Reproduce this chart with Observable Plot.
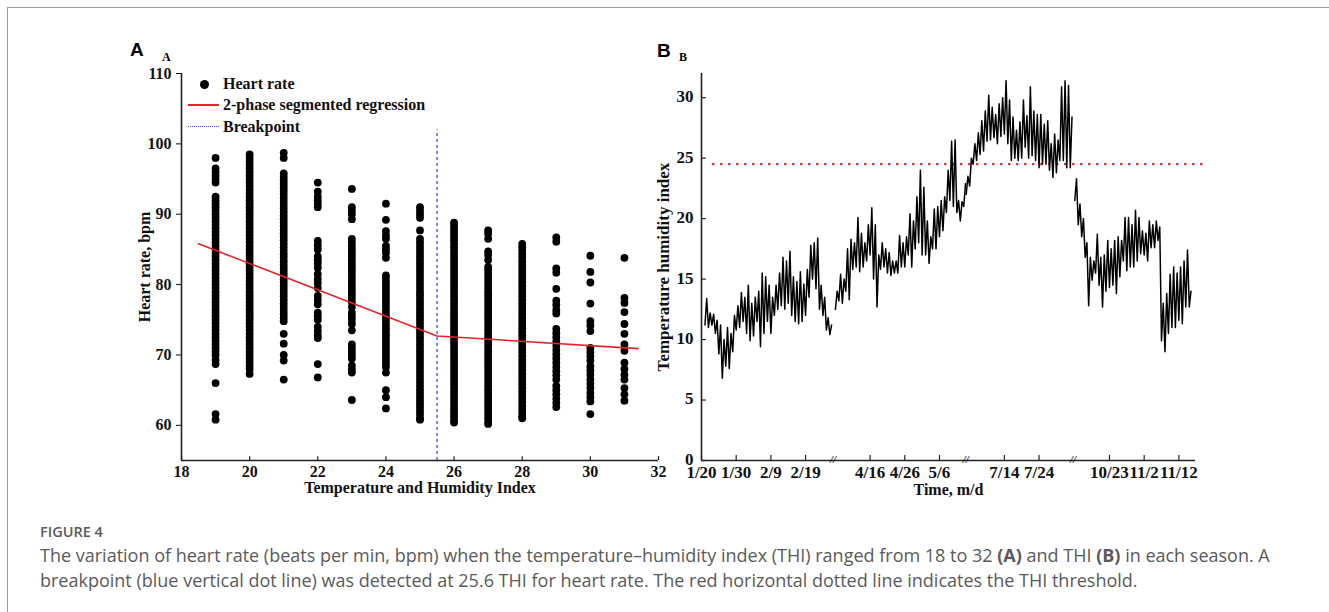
<!DOCTYPE html>
<html><head><meta charset="utf-8">
<script src="https://cdn.jsdelivr.net/npm/d3@7"></script>
<script src="https://cdn.jsdelivr.net/npm/@observablehq/plot@0.6"></script>
<style>
html,body{margin:0;padding:0;background:#fff;overflow:hidden;}
body{width:1329px;height:612px;position:relative;}
#frame{position:absolute;left:7px;top:7px;width:1340px;height:620px;border:1.5px solid #9a9a9a;box-sizing:border-box;}
.abs{position:absolute;white-space:nowrap;}
#plotA,#plotB{position:absolute;top:0;}
#plotA{left:0}
#plotB{left:600px}
.ptitle{font-family:"Liberation Sans",Arial,sans-serif;font-weight:bold;font-size:19px;line-height:20px;}
.psub{font-family:"Liberation Serif",serif;font-weight:bold;font-size:12px;line-height:14px;}
.leg{font-family:"Liberation Serif",serif;font-weight:bold;font-size:16px;line-height:18px;color:#111;}
.cap{font-family:"Open Sans",sans-serif;color:#5a5a5a;}
</style></head>
<body>
<div id="frame"></div>
<div id="plotA"></div>
<div id="plotB"></div>

<div class="abs ptitle" style="left:130px;top:40px">A</div>
<div class="abs psub" style="left:162px;top:50px">A</div>
<div class="abs ptitle" style="left:657px;top:41px">B</div>
<div class="abs psub" style="left:679px;top:50px">B</div>

<!-- legend panel A -->
<div class="abs" style="left:200px;top:80px;width:9px;height:9px;border-radius:50%;background:#000"></div>
<div class="abs leg" style="left:223px;top:75px">Heart rate</div>
<div class="abs" style="left:188px;top:104px;width:31px;height:1.5px;background:#e8222a"></div>
<div class="abs leg" style="left:223px;top:96px">2-phase segmented regression</div>
<div class="abs" style="left:188px;top:126px;width:31px;height:0;border-top:1.5px dotted #4b4bdc"></div>
<div class="abs leg" style="left:223px;top:118px">Breakpoint</div>

<div class="abs cap" style="left:40px;top:522px;font-size:14.5px;font-weight:600;">FIGURE 4</div>
<div class="abs cap" style="left:40px;top:543px;font-size:18px;">The variation of heart rate (beats per min, bpm) when the temperature–humidity index (THI) ranged from 18 to 32 <b>(A)</b> and THI <b>(B)</b> in each season. A</div>
<div class="abs cap" style="left:40px;top:568px;font-size:18px;">breakpoint (blue vertical dot line) was detected at 25.6 THI for heart rate. The red horizontal dotted line indicates the THI threshold.</div>

<script>
// ---------------- Panel A data ----------------
const thiCols = [19, 20, 21, 22, 23, 24, 25, 26, 27, 28, 29, 30, 31];
const hr19 = [98, 96.5, 96, 95.5, 95, 94.5, 92.5, 92, 91.5, 91, 90.5, 90, 89.5, 89, 88.5, 88, 87.5, 87, 86.5, 86, 85.5, 85, 84.5, 84, 83.5, 83, 82.5, 82, 81.5, 81, 80.5, 80, 79.5, 79, 78.5, 78, 77.5, 77, 76.5, 76, 75.5, 75, 74.5, 74, 73.5, 73, 72.5, 72, 71.5, 71, 70.5, 70, 69.3, 68.7, 66, 61.6, 60.8];
const hr20 = [98.5, 98, 97.5, 97, 96.5, 96, 95.5, 95, 94.5, 94, 93.5, 93, 92.5, 92, 91.5, 91, 90.5, 90, 89.5, 89, 88.5, 88, 87.5, 87, 86.5, 86, 85.5, 85, 84.5, 84, 83.5, 83, 82.5, 82, 81.5, 81, 80.5, 80, 79.5, 79, 78.5, 78, 77.5, 77, 76.5, 76, 75.5, 75, 74.5, 74, 73.5, 73, 72.5, 72, 71.5, 71, 70.5, 70, 69.5, 69, 68.5, 68, 67.3];
const hr21 = [98.7, 98, 95.8, 95.3, 94.8, 94.3, 93.8, 93.3, 92.8, 92.3, 91.8, 91.3, 90.8, 90.3, 89.8, 89.3, 88.8, 88.3, 87.8, 87.3, 86.8, 86.3, 85.8, 85.3, 84.8, 84.3, 83.8, 83.3, 82.8, 82.3, 81.8, 81.3, 80.8, 80.3, 79.8, 79.3, 78.8, 78.3, 77.8, 77.3, 76.8, 76.3, 75.8, 75.3, 74.8, 73, 71.6, 70, 69.2, 66.5];
const hr22 = [94.5, 93.2, 92.5, 92, 91.5, 91, 86.2, 85.6, 85, 84, 83.5, 83, 82.4, 81.5, 80.8, 80.2, 79.5, 78.4, 77.8, 77.2, 76, 75.5, 75, 74, 73.4, 72.8, 72.4, 68.7, 66.8];
const hr23 = [93.6, 91, 90.5, 90, 89.3, 86.5, 86, 85.5, 85, 84.5, 84, 83.5, 83, 82.5, 82, 81.5, 81, 80.5, 80, 79.5, 79, 78.5, 78, 77.5, 76.8, 76, 75.5, 75, 74.4, 73.5, 71.5, 71, 70.5, 70, 69.5, 68.5, 68, 67.5, 63.6];
const hr24 = [91.5, 89.2, 87.6, 87, 86.5, 85.5, 85, 84.5, 83.8, 81.3, 80.8, 80.3, 79.8, 79.3, 78.8, 78.3, 77.8, 77.3, 76.8, 76.3, 75.8, 75.3, 74.8, 74.3, 73.8, 73.3, 72.8, 72.3, 71.8, 71.3, 70.8, 70.3, 69.8, 69.3, 68.8, 68.3, 67.5, 65, 64, 62.4];
const hr25 = [91, 90.5, 90, 89.5, 87.7, 86.5, 86, 85.5, 85, 84.5, 84, 83.5, 83, 82.5, 82, 81.5, 81, 80.5, 80, 79.5, 79, 78.5, 78, 77.5, 77, 76.5, 76, 75.5, 75, 74.5, 74, 73.5, 73, 72.5, 72, 71.5, 71, 70.5, 70, 69.5, 69, 68.5, 68, 67.5, 67, 66.5, 66, 65.5, 65, 64.5, 64, 63.5, 63, 62.5, 62, 61.5, 61, 60.8];
const hr26 = [88.8, 88.3, 87.8, 87.3, 86.8, 86.3, 85.8, 85.3, 84.8, 84.3, 83.8, 83.3, 82.8, 82.3, 81.8, 81.3, 80.8, 80.3, 79.8, 79.3, 78.8, 78.3, 77.8, 77.3, 76.8, 76.3, 75.8, 75.3, 74.8, 74.3, 73.8, 73.3, 72.8, 72.3, 71.8, 71.3, 70.8, 70.3, 69.8, 69.3, 68.8, 68.3, 67.8, 67.3, 66.8, 66.3, 65.8, 65.3, 64.8, 64.3, 63.8, 63.3, 62.8, 62.3, 61.8, 61.3, 60.8, 60.4];
const hr27 = [87.7, 87.2, 86.5, 84.7, 84.2, 83.5, 82.5, 82, 81.5, 81, 80.5, 80, 79.5, 79, 78.5, 78, 77.5, 77, 76.5, 76, 75.5, 75, 74.5, 74, 73.5, 73, 72.5, 72, 71.5, 71, 70.5, 70, 69.5, 69, 68.5, 68, 67.5, 67, 66.5, 66, 65.5, 65, 64.5, 64, 63.5, 63, 62.5, 62, 61.5, 61, 60.5, 60.2];
const hr28 = [85.8, 85.3, 84.8, 84.3, 83.8, 83.3, 82.8, 82.3, 81.8, 81.3, 80.8, 80.3, 79.8, 79.3, 78.8, 78.3, 77.8, 77.3, 76.8, 76.3, 75.8, 75.3, 74.8, 74.3, 73.8, 73.3, 72.8, 72.3, 71.8, 71.3, 70.8, 70.3, 69.8, 69.3, 68.8, 68.3, 67.8, 67.3, 66.8, 66.3, 65.8, 65.3, 64.8, 64.3, 63.8, 63.3, 62.8, 62.3, 61.8, 61.3, 61];
const hr29 = [86.7, 86.1, 82.3, 81.7, 79.4, 77.7, 77.1, 76.4, 75.9, 73.7, 73.1, 72.5, 71.9, 71.3, 70.7, 70.1, 69.5, 68.9, 68.3, 67.7, 67.1, 66.5, 65.6, 65, 64.4, 63.8, 63.2, 62.6];
const hr30 = [84.1, 81.8, 80.3, 77.3, 74.8, 74.2, 73.4, 71, 70.4, 69.8, 69.2, 68.4, 67.8, 67.2, 66.5, 65.9, 65.3, 64.6, 64, 63.4, 61.6];
const hr31 = [83.8, 78.1, 77.4, 76.1, 74.4, 73, 71.5, 70.6, 68.9, 68, 67.2, 66.5, 65.3, 64.4, 63.5];
const hrCols = [hr19, hr20, hr21, hr22, hr23, hr24, hr25, hr26, hr27, hr28, hr29, hr30, hr31];

// two-phase segmented regression: start, breakpoint, end
const regThi = [18.5, 25.5, 31.4];
const regHr = [85.8, 72.7, 70.9];
const breakpointThi = 25.5;
const xTicksA = [18, 20, 22, 24, 26, 28, 30, 32];
const yTicksA = [60, 70, 80, 90, 100, 110];

// ---------------- Panel B data ----------------
// daily low / high THI readings per recorded period
const seg1Start = "1/21";
const seg1Lo = [11.2, 11.0, 11.2, 10.5, 8.8, 6.8, 7.8, 7.6, 9.0, 10.8, 11.0, 11.5, 10.5, 9.9, 10.3, 11.5, 9.4, 10.5, 11.5, 10.5, 12.0, 12.5, 12.8, 12.5, 13.0, 12.0, 11.5, 11.3, 11.5, 12.0, 13.5, 15.0, 14.2, 12.5, 12.0, 10.8, 10.4];
const seg1Hi = [13.4, 12.2, 12.1, 11.6, 11.2, 10.0, 11.0, 10.5, 12.0, 12.8, 13.9, 13.5, 14.5, 13.0, 13.5, 14.0, 15.5, 15.2, 14.5, 13.5, 14.5, 15.5, 16.8, 16.5, 17.3, 15.2, 14.8, 15.6, 14.6, 15.8, 17.8, 18.0, 18.4, 14.5, 13.5, 11.8, 11.2];
const seg2Start = "4/6";
const seg2Lo = [12.5, 13.2, 13.0, 14.0, 13.3, 15.8, 16.0, 15.6, 16.0, 16.5, 17.0, 15.0, 12.7, 15.8, 16.0, 15.5, 15.3, 15.5, 15.5, 16.0, 16.0, 17.0, 16.0, 17.5, 18.0, 17.0, 17.0, 16.3, 17.5, 17.5, 18.5, 19.0, 20.5, 21.5, 21.0, 20.5, 19.8, 21.0];
const seg2Hi = [14.0, 15.4, 15.0, 17.5, 18.3, 18.0, 20.1, 18.8, 18.0, 19.5, 20.9, 19.5, 17.0, 18.0, 17.5, 17.2, 16.5, 16.5, 18.6, 18.0, 18.5, 20.4, 19.8, 21.8, 24.0, 22.6, 19.8, 18.5, 20.8, 21.0, 21.5, 21.8, 24.0, 26.4, 26.5, 21.5, 21.4, 22.9];
const seg3Start = "7/3";
const seg3Lo = [22.0, 22.7, 24.5, 24.8, 25.3, 25.6, 26.4, 26.5, 26.7, 26.2, 26.8, 27.0, 26.2, 24.8, 25.0, 24.8, 25.0, 25.9, 25.0, 25.2, 24.8, 24.2, 24.5, 24.5, 24.0, 23.4, 23.8, 24.8, 24.8, 24.2, 24.2];
const seg3Hi = [23.5, 25.0, 26.2, 27.1, 28.1, 28.9, 30.2, 29.2, 28.6, 29.5, 30.0, 31.4, 29.8, 28.4, 27.3, 28.0, 29.8, 28.5, 30.9, 28.9, 28.6, 28.6, 27.8, 28.1, 26.2, 27.0, 26.5, 30.9, 31.4, 31.0, 28.4];
const seg4Start = "10/13";
const seg4Lo = [21.5, 19.5, 18.5, 16.8, 12.8, 14.9, 15.5, 14.5, 12.7, 14.0, 14.3, 14.5, 13.8, 15.2, 16.5, 15.7, 16.0, 16.0, 16.5, 17.1, 17.0, 16.5, 17.6, 17.6, 18.2, 9.9, 9.0, 10.5, 11.0, 11.0, 11.6, 11.3, 12.7, 12.7];
const seg4Hi = [23.3, 21.2, 20.0, 18.0, 16.8, 16.5, 18.7, 16.8, 17.0, 18.2, 17.5, 18.2, 18.5, 18.2, 20.1, 20.1, 19.5, 20.7, 20.1, 19.0, 18.8, 19.8, 19.5, 19.8, 19.3, 13.0, 13.8, 15.4, 16.0, 15.5, 16.0, 16.5, 17.4, 14.0];
const thiThreshold = 24.5;
const dateTicks = ["1/20", "1/30", "2/9", "2/19", "4/16", "4/26", "5/6", "7/14", "7/24", "10/23", "11/2", "11/12"];
const yTicksB = [0, 5, 10, 15, 20, 25, 30];

// ---------------- broken time axis layout ----------------
const axisPieces = [{start: "1/20", at: 0}, {start: "4/6", at: 38.6}, {start: "7/3", at: 76.3}, {start: "10/13", at: 107.6}];
const breakAt = [37.9, 76.2, 107.1];
const dayNum = s => { const [m, d] = s.split("/").map(Number); return Math.round((Date.UTC(2021, m - 1, d) - Date.UTC(2021, 0, 1)) / 864e5); };
const pos = s => { const n = dayNum(s); let p = axisPieces[0]; for (const a of axisPieces) if (dayNum(a.start) <= n) p = a; return p.at + n - dayNum(p.start); };

const series = [];
[[seg1Start, seg1Lo, seg1Hi], [seg2Start, seg2Lo, seg2Hi], [seg3Start, seg3Lo, seg3Hi], [seg4Start, seg4Lo, seg4Hi]].forEach(([st, lo, hi], k) => {
  const p0 = pos(st);
  lo.forEach((v, i) => {
    series.push({seg: k, t: p0 + i, thi: v});
    series.push({seg: k, t: p0 + i + 0.5, thi: hi[i]});
  });
});

const baseStyle = {fontFamily: "'Liberation Serif', 'Times New Roman', serif", fontWeight: "bold", background: "transparent", overflow: "visible", color: "#111"};

// ---------------- Panel A ----------------
const tableA = thiCols.flatMap((t, i) => hrCols[i].map(h => ({thi: t, hr: h})));
const regLine = regThi.map((t, i) => ({thi: t, hr: regHr[i]}));

const plotA = Plot.plot({
  width: 700, height: 510,
  marginLeft: 181, marginRight: 42, marginTop: 73, marginBottom: 50,
  style: {...baseStyle, fontSize: "16px"},
  x: {domain: [18, 32], label: null},
  y: {domain: [55, 110], label: null},
  marks: [
    Plot.dot(tableA, {x: "thi", y: "hr", r: 3.9, fill: "#000", stroke: "none"}),
    Plot.line(regLine, {x: "thi", y: "hr", stroke: "#e8222a", strokeWidth: 1.6}),
    Plot.ruleX([breakpointThi], {y1: 55, y2: 102, stroke: "#4b4bdc", strokeWidth: 1.3, strokeDasharray: "3,3"}),
    Plot.ruleY([55], {stroke: "#222", strokeWidth: 1.6}),
    Plot.ruleX([18], {stroke: "#222", strokeWidth: 1.6}),
    Plot.ruleX(xTicksA, {y1: 55, y2: 55.55, stroke: "#222", strokeWidth: 1.2}),
    Plot.axisX({ticks: xTicksA, tickSize: 0, tickPadding: 5, tickFormat: d => d}),
    Plot.axisY({ticks: yTicksA, tickSize: 5, tickPadding: 5, tickFormat: d => d}),
    Plot.text(["Temperature and Humidity Index"], {frameAnchor: "bottom", dy: 32, text: d => d, fontSize: 16, fontWeight: "bold"}),
    Plot.text(["Heart rate, bpm"], {frameAnchor: "left", textAnchor: "middle", dx: -37, rotate: -90, text: d => d, fontSize: 16, fontWeight: "bold"})
  ]
});
document.getElementById("plotA").append(plotA);

// ---------------- Panel B ----------------
const tickPos = dateTicks.map(pos);
const plotB = Plot.plot({
  width: 729, height: 510,
  marginLeft: 101, marginRight: 134, marginTop: 73, marginBottom: 50,
  style: {...baseStyle, fontSize: "17px"},
  x: {domain: [0, 142.4], label: null},
  y: {domain: [0, 32], label: null},
  marks: [
    Plot.ruleY([thiThreshold], {x1: 3.2, x2: 144.6, stroke: "#ee1c25", strokeWidth: 2.2, strokeDasharray: "2.2,5.8"}),
    Plot.line(series, {x: "t", y: "thi", z: "seg", stroke: "#000", strokeWidth: 1.5}),
    Plot.ruleY([0], {stroke: "#222", strokeWidth: 1.6}),
    Plot.ruleX([0], {stroke: "#222", strokeWidth: 1.6}),
    Plot.ruleX(tickPos, {y1: 0, y2: 0.42, stroke: "#222", strokeWidth: 1.2}),
    Plot.ruleY(yTicksB, {x1: 0, x2: 1.4, stroke: "#222", strokeWidth: 1.2}),
    Plot.text(breakAt, {x: d => d, y: 0, text: () => "//", fontSize: 11, fontStyle: "italic", fontWeight: "bold", dy: -1}),
    Plot.axisX({ticks: tickPos, tickSize: 0, tickPadding: 5, tickFormat: (d, i) => dateTicks[i]}),
    Plot.axisY({ticks: yTicksB, tickSize: 0, tickPadding: 8, tickFormat: d => d, dy: -1}),
    Plot.text(["Time, m/d"], {frameAnchor: "bottom", dy: 34, text: d => d, fontSize: 16, fontWeight: "bold"}),
    Plot.text(["Temperature humidity index"], {frameAnchor: "left", textAnchor: "middle", dx: -38, rotate: -90, text: d => d, fontSize: 17, fontWeight: "bold"})
  ]
});
document.getElementById("plotB").append(plotB);
</script>
</body></html>
